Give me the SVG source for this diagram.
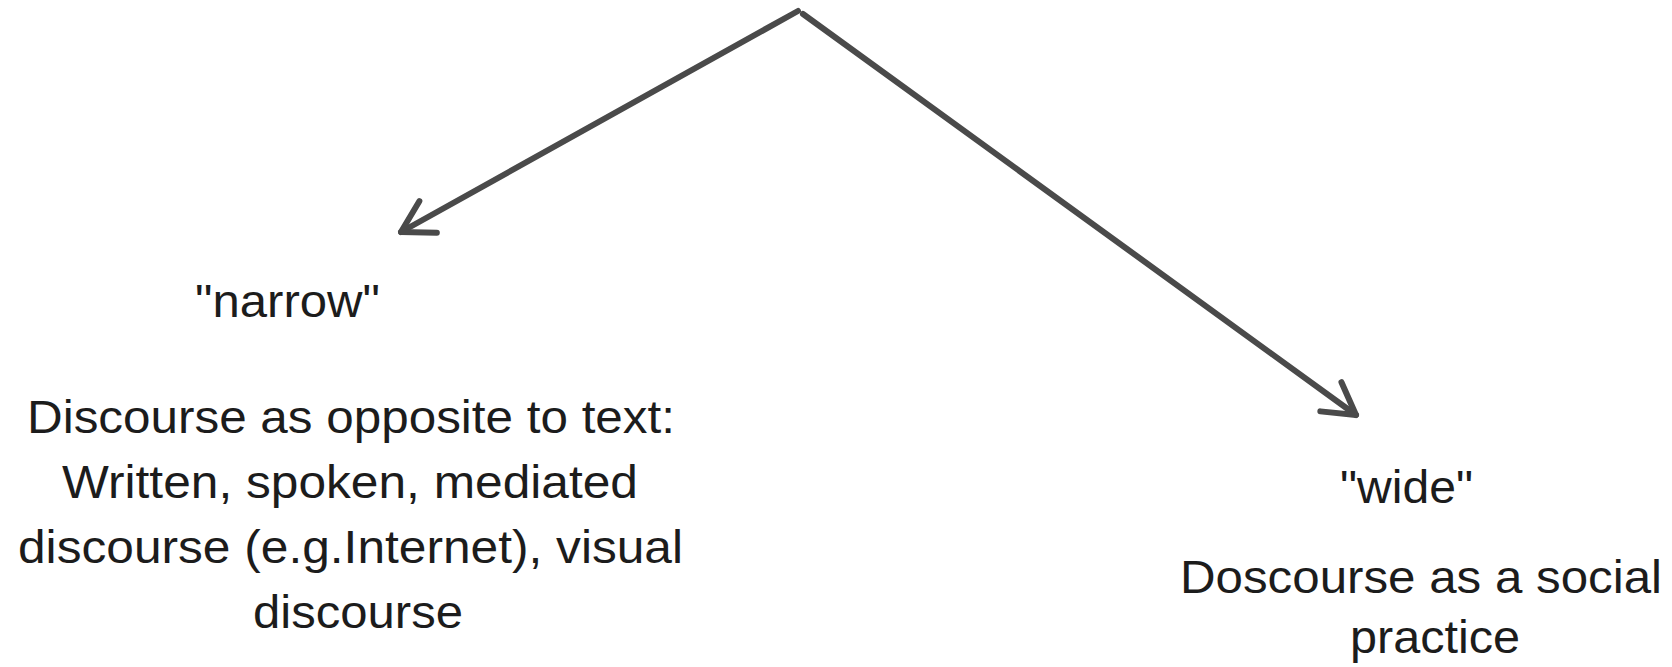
<svg xmlns="http://www.w3.org/2000/svg" width="1672" height="667" viewBox="0 0 1672 667">
  <style>
    .bg { fill: #ffffff; }
    .conn { fill: none; stroke: #4a4a4a; stroke-width: 6; stroke-linecap: round; stroke-linejoin: round; }
    .lbl { font-family: "Liberation Sans", Arial, sans-serif; font-size: 46px; fill: #1c1c1c; text-anchor: middle; }
  </style>
  <defs>
    <marker id="chev" markerUnits="userSpaceOnUse" markerWidth="80" markerHeight="80" viewBox="-40 -40 80 80" refX="0" refY="0" orient="auto" overflow="visible">
      <path d="M -31,-18 L 0,0 L -31,18" fill="none" stroke="#4a4a4a" stroke-width="6" stroke-linecap="round" stroke-linejoin="round"/>
    </marker>
  </defs>
  <rect class="bg" x="0" y="0" width="1672" height="667"/>
  <g id="connectors">
    <line class="conn" x1="798" y1="11" x2="401" y2="232" marker-end="url(#chev)"/>
    <line class="conn" x1="803" y1="14" x2="1356" y2="415" marker-end="url(#chev)"/>
  </g>
  <g id="narrow">
    <text class="lbl" x="287.5" y="317" textLength="185" lengthAdjust="spacingAndGlyphs">"narrow"</text>
    <text class="lbl" x="351" y="433" textLength="648" lengthAdjust="spacingAndGlyphs">Discourse as opposite to text:</text>
    <text class="lbl" x="350" y="498" textLength="576" lengthAdjust="spacingAndGlyphs">Written, spoken, mediated</text>
    <text class="lbl" x="350.5" y="563" textLength="665" lengthAdjust="spacingAndGlyphs">discourse (e.g.Internet), visual</text>
    <text class="lbl" x="358" y="628" textLength="210" lengthAdjust="spacingAndGlyphs">discourse</text>
  </g>
  <g id="wide">
    <text class="lbl" x="1406.5" y="503" textLength="133" lengthAdjust="spacingAndGlyphs">"wide"</text>
    <text class="lbl" x="1421" y="593" textLength="482" lengthAdjust="spacingAndGlyphs">Doscourse as a social</text>
    <text class="lbl" x="1435" y="653" textLength="170" lengthAdjust="spacingAndGlyphs">practice</text>
  </g>
</svg>
